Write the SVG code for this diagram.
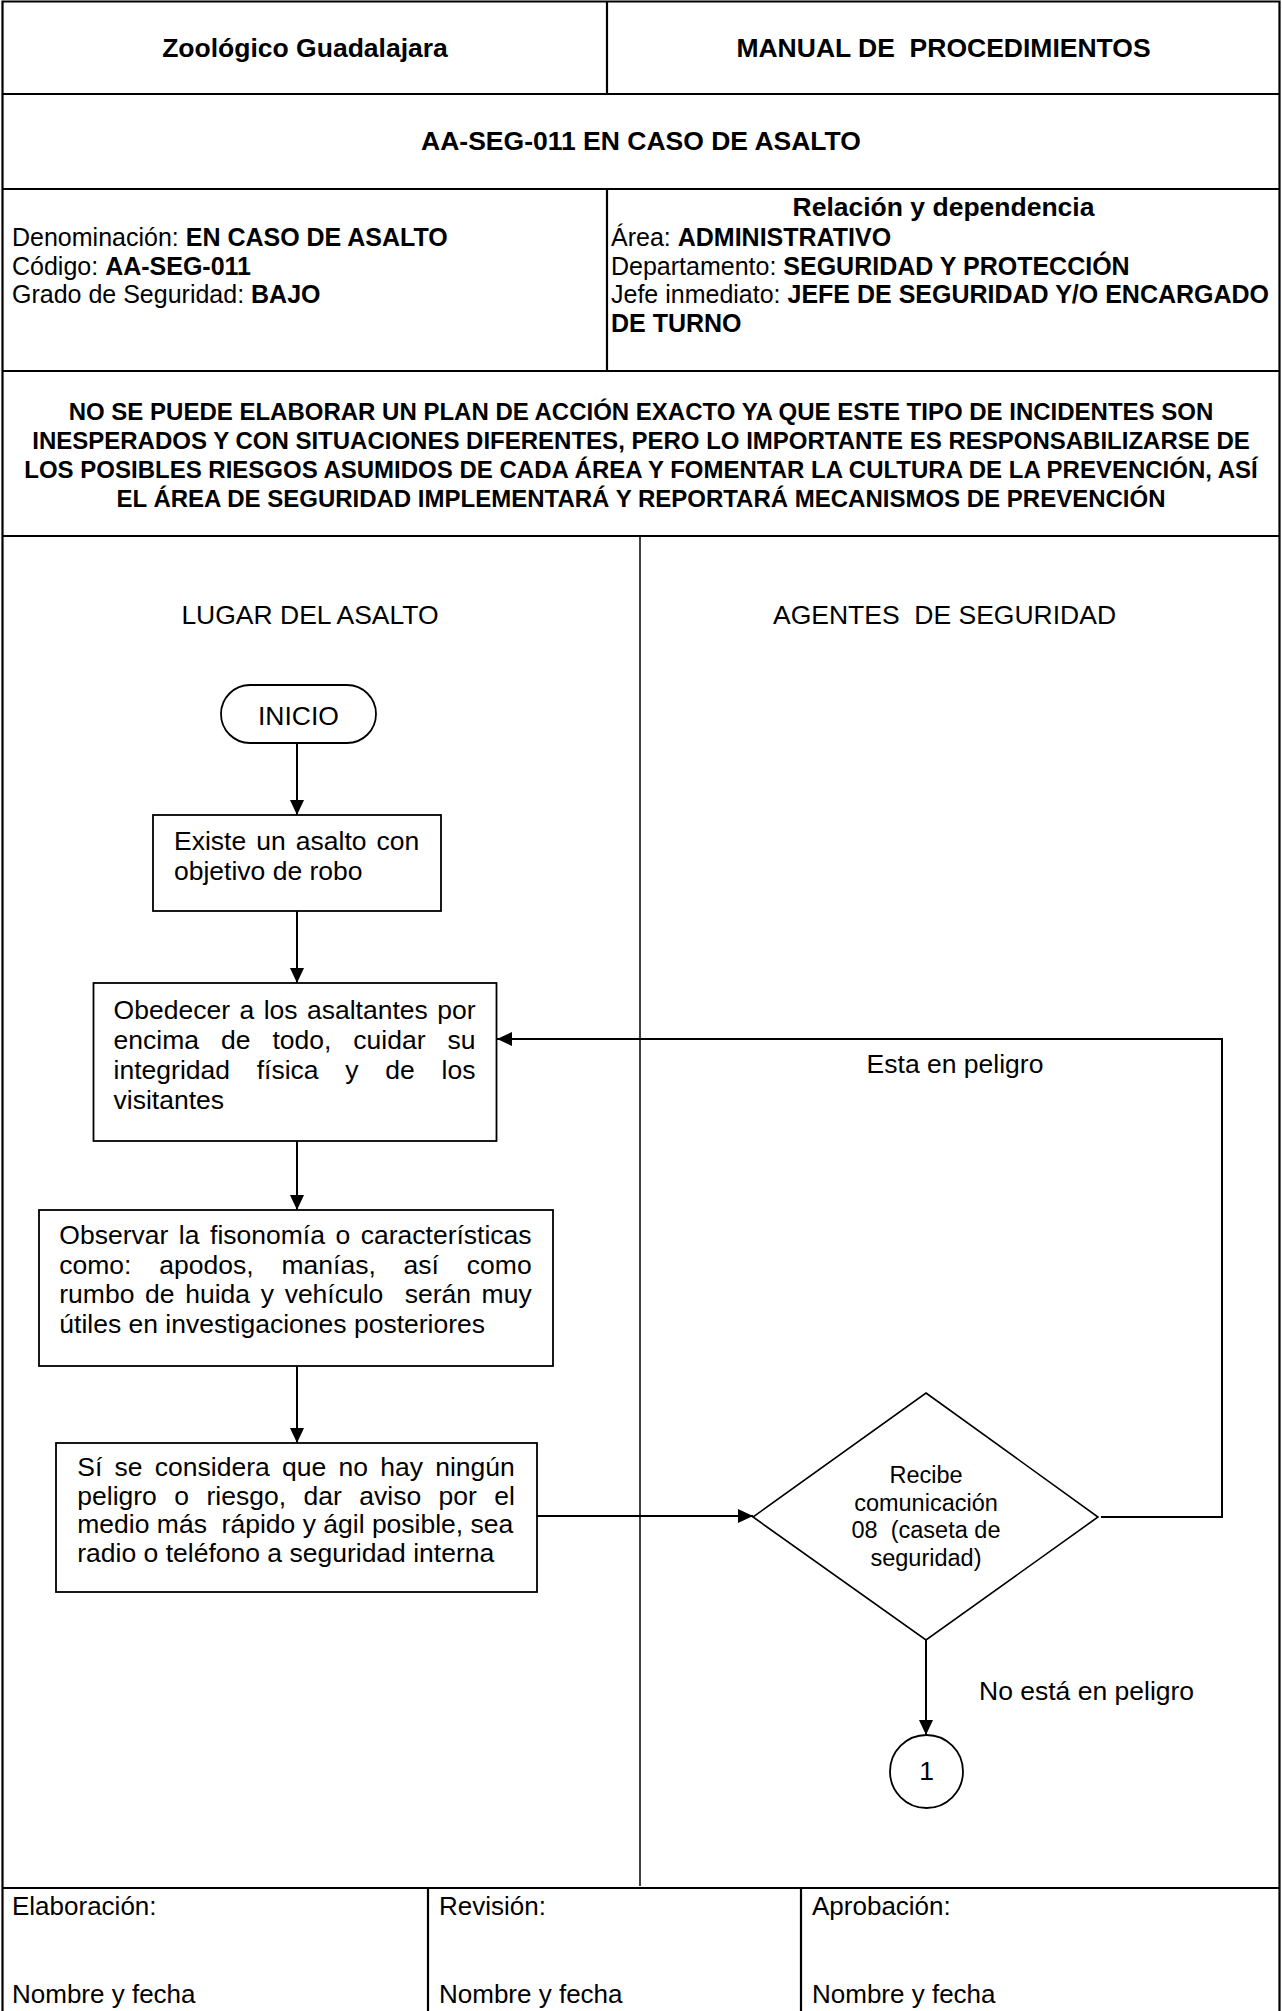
<svg xmlns="http://www.w3.org/2000/svg" width="1282" height="2011" viewBox="0 0 1282 2011">
<style>
text{font-family:"Liberation Sans",Arial,Helvetica,sans-serif;fill:#000}
.t26b{font-size:26.5px;font-weight:bold}
.info{font-size:25px}
.para{font-size:24px;font-weight:bold}
.fc{font-size:26.5px}
.dm{font-size:23.5px}
.ft{font-size:26px}
.mid{text-anchor:middle}
.b{font-weight:bold}
.pre{white-space:pre}
.grid{stroke:#000;stroke-width:2.2;fill:none}
.lane{stroke:#000;stroke-width:1.5;fill:none}
.box{stroke:#000;stroke-width:1.8;fill:#fff}
.con{stroke:#000;stroke-width:2;fill:none}
</style>
<defs>
<marker id="arr" markerUnits="userSpaceOnUse" markerWidth="15" markerHeight="14" refX="15" refY="7" orient="auto">
<path d="M0,0 L15,7 L0,14 z" fill="#000"/>
</marker>
</defs>
<rect width="1282" height="2011" fill="#fff"/>

<g id="table">
<path class="grid" d="M2.5,2011 V1.5 H1279.5 V2011"/>
<path class="grid" d="M2.5,94 H1279.5 M2.5,189 H1279.5 M2.5,371 H1279.5 M2.5,536 H1279.5 M2.5,1888 H1279.5"/>
<path class="grid" d="M607,1.5 V94 M607,189 V371 M428,1888 V2011 M801,1888 V2011"/>
<path class="lane" d="M640,536 V1886"/>
</g>

<g id="header">
<text class="t26b mid" x="305" y="57">Zoológico Guadalajara</text>
<text class="t26b mid pre" x="943.5" y="57" xml:space="preserve">MANUAL DE  PROCEDIMIENTOS</text>
<text class="t26b mid" x="641" y="150">AA-SEG-011 EN CASO DE ASALTO</text>
</g>

<g id="info">
<text class="info" x="12" y="246">Denominación: <tspan class="b">EN CASO DE ASALTO</tspan></text>
<text class="info" x="12" y="274.5">Código: <tspan class="b">AA-SEG-011</tspan></text>
<text class="info" x="12" y="303">Grado de Seguridad: <tspan class="b">BAJO</tspan></text>
<text class="info b mid" x="943.5" y="216" style="font-size:26.5px">Relación y dependencia</text>
<text class="info" x="611" y="246">Área: <tspan class="b">ADMINISTRATIVO</tspan></text>
<text class="info" x="611" y="274.5">Departamento: <tspan class="b">SEGURIDAD Y PROTECCIÓN</tspan></text>
<text class="info" x="611" y="303">Jefe inmediato: <tspan class="b">JEFE DE SEGURIDAD Y/O ENCARGADO</tspan></text>
<text class="info b" x="611" y="331.5">DE TURNO</text>
</g>

<g id="objetivo">
<text class="para mid" x="641" y="420">NO SE PUEDE ELABORAR UN PLAN DE ACCIÓN EXACTO YA QUE ESTE TIPO DE INCIDENTES SON</text>
<text class="para mid" x="641" y="449">INESPERADOS Y CON SITUACIONES DIFERENTES, PERO LO IMPORTANTE ES RESPONSABILIZARSE DE</text>
<text class="para mid" x="641" y="478">LOS POSIBLES RIESGOS ASUMIDOS DE CADA ÁREA Y FOMENTAR LA CULTURA DE LA PREVENCIÓN, ASÍ</text>
<text class="para mid" x="641" y="507">EL ÁREA DE SEGURIDAD IMPLEMENTARÁ Y REPORTARÁ MECANISMOS DE PREVENCIÓN</text>
</g>

<g id="lanes">
<text class="fc mid" x="310" y="624">LUGAR DEL ASALTO</text>
<text class="fc mid pre" x="944.5" y="624" xml:space="preserve">AGENTES  DE SEGURIDAD</text>
</g>

<g id="connectors">
<path class="con" d="M297,743 V815" marker-end="url(#arr)"/>
<path class="con" d="M297,911 V983" marker-end="url(#arr)"/>
<path class="con" d="M297,1141 V1210" marker-end="url(#arr)"/>
<path class="con" d="M297,1366 V1443" marker-end="url(#arr)"/>
<path class="con" d="M537,1516 H753" marker-end="url(#arr)"/>
<path class="con" d="M1101,1517 H1222 V1039 H497" marker-end="url(#arr)"/>
<path class="con" d="M926,1640 V1735" marker-end="url(#arr)"/>
<text class="fc mid" x="955" y="1073">Esta en peligro</text>
<text class="fc" x="979" y="1700">No está en peligro</text>
</g>

<g id="inicio">
<rect class="box" x="221" y="685" width="155" height="58" rx="29" ry="29"/>
<text class="fc mid" x="298.5" y="725">INICIO</text>
</g>

<g id="existe">
<rect class="box" x="153" y="815" width="288" height="96"/>
<text class="fc" x="174" y="850" style="word-spacing:2.7px">Existe un asalto con</text>
<text class="fc" x="174" y="880">objetivo de robo</text>
</g>

<g id="obedecer">
<rect class="box" x="93.5" y="983" width="403" height="158"/>
<text class="fc" x="113.6" y="1019" style="word-spacing:2.1px">Obedecer a los asaltantes por</text>
<text class="fc" x="113.6" y="1049" style="word-spacing:14.6px">encima de todo, cuidar su</text>
<text class="fc" x="113.6" y="1079" style="word-spacing:19.4px">integridad física y de los</text>
<text class="fc" x="113.6" y="1109">visitantes</text>
</g>

<g id="observar">
<rect class="box" x="39" y="1210" width="514" height="156"/>
<text class="fc" x="59.3" y="1244" style="word-spacing:3.2px">Observar la fisonomía o características</text>
<text class="fc" x="59.3" y="1273.5" style="word-spacing:20.5px">como: apodos, manías, así como</text>
<text class="fc pre" x="59.3" y="1303" style="word-spacing:3.3px" xml:space="preserve">rumbo de huida y vehículo  serán muy</text>
<text class="fc" x="59.3" y="1332.5">útiles en investigaciones posteriores</text>
</g>

<g id="aviso">
<rect class="box" x="56" y="1443" width="481" height="149"/>
<text class="fc" x="77.3" y="1476" style="word-spacing:4.9px">Sí se considera que no hay ningún</text>
<text class="fc" x="77.3" y="1504.5" style="word-spacing:10.1px">peligro o riesgo, dar aviso por el</text>
<text class="fc pre" x="77.3" y="1533" xml:space="preserve">medio más  rápido y ágil posible, sea</text>
<text class="fc" x="77.3" y="1561.5">radio o teléfono a seguridad interna</text>
</g>

<g id="recibe">
<path class="box" style="stroke-width:1.6" d="M926,1393 L1098,1517 L926,1640 L753,1517 Z"/>
<text class="dm mid" x="926" y="1483">Recibe</text>
<text class="dm mid" x="926" y="1510.5">comunicación</text>
<text class="dm mid pre" x="926" y="1538" xml:space="preserve">08  (caseta de</text>
<text class="dm mid" x="926" y="1565.5">seguridad)</text>
</g>

<g id="conector1">
<circle class="box" cx="926.5" cy="1771.5" r="36.5"/>
<text class="fc mid" x="926.5" y="1780">1</text>
</g>

<g id="firmas">
<text class="ft" x="12" y="1915">Elaboración:</text>
<text class="ft" x="12" y="2003">Nombre y fecha</text>
<text class="ft" x="439" y="1915">Revisión:</text>
<text class="ft" x="439" y="2003">Nombre y fecha</text>
<text class="ft" x="812" y="1915">Aprobación:</text>
<text class="ft" x="812" y="2003">Nombre y fecha</text>
</g>
</svg>
